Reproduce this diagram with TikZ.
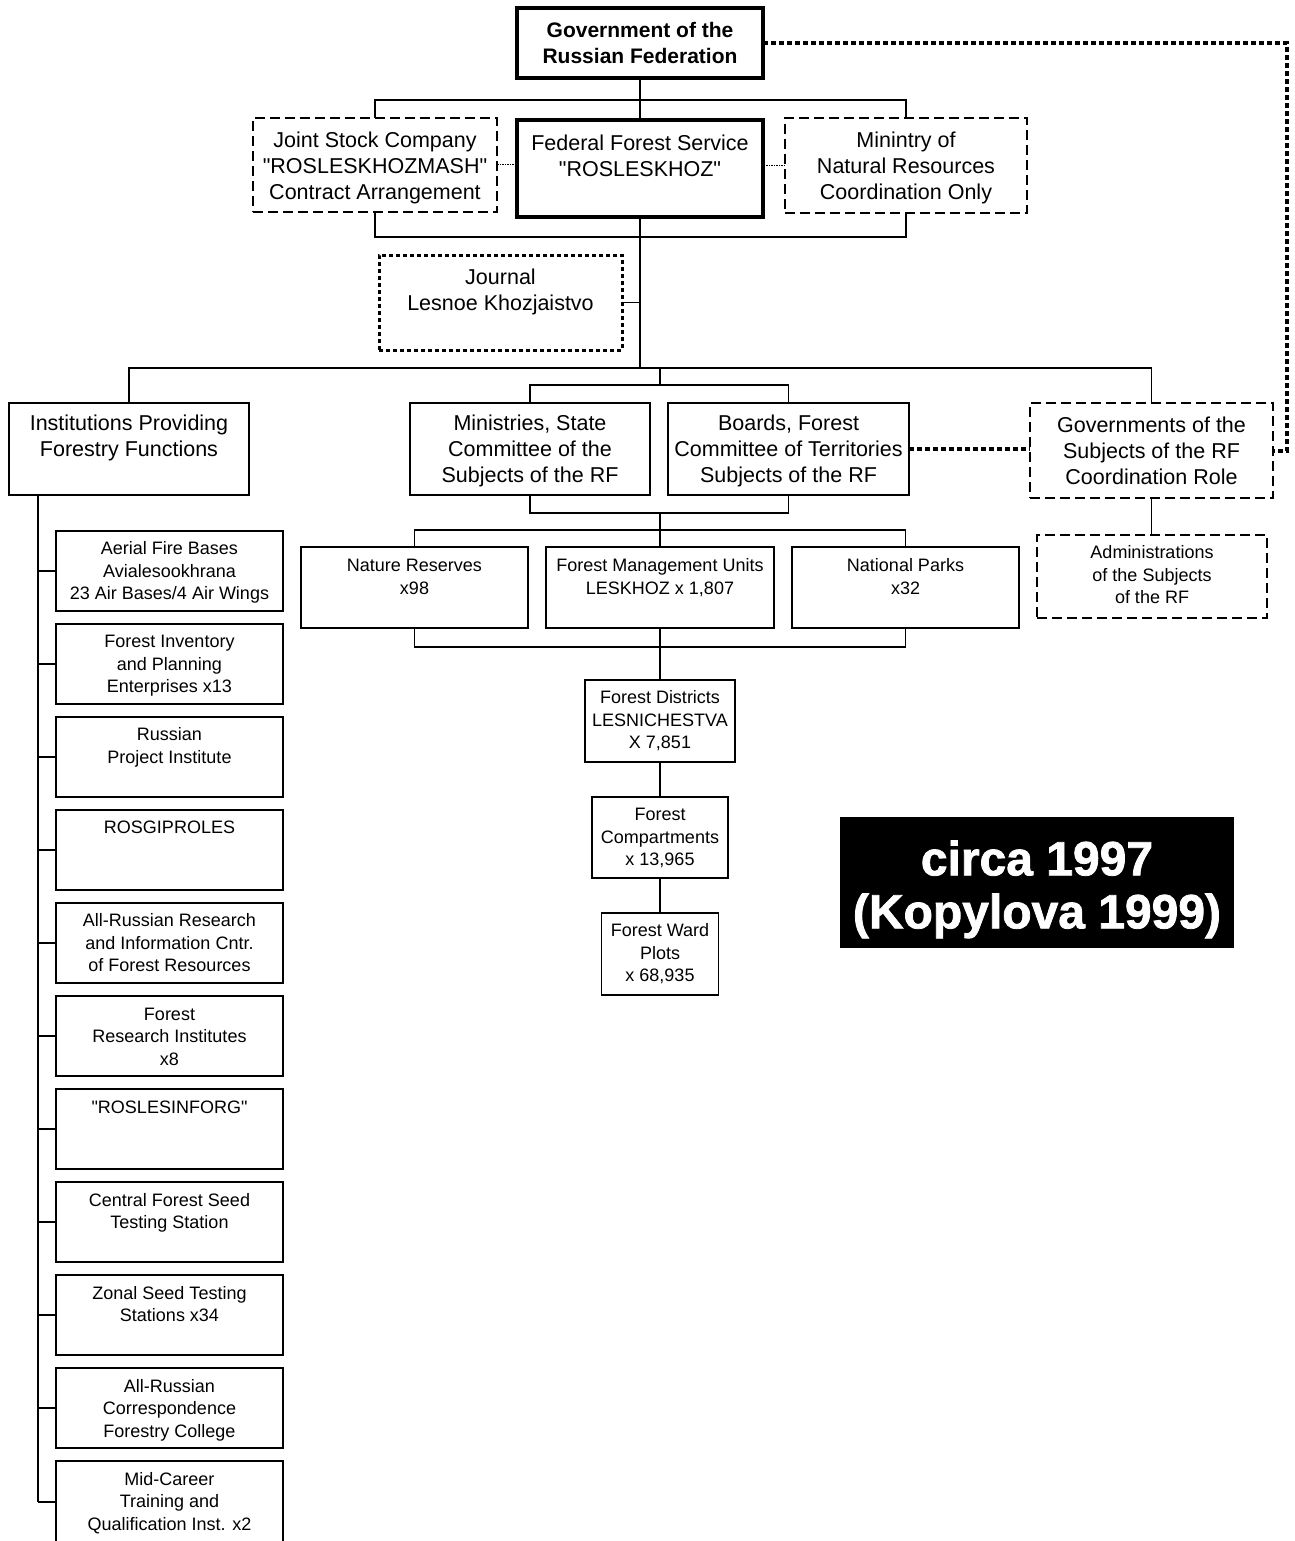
\documentclass[tikz,border=0pt]{standalone}
\usepackage{fontspec}
\setmainfont{Liberation Sans}[Ligatures=TeXOff]
\newfontfamily\circafont{Liberation Sans}[BoldFeatures={FakeBold=1.6}]
\newcommand{\qq}{"}
\tikzset{
  base/.style={rectangle, inner sep=0pt, outer sep=0pt},
  plainbx/.style={base, draw, line width=1.5pt},
  heavybx/.style={base, draw, line width=4.5pt},
  dashbx/.style={base, draw, line width=2.5pt, dash pattern=on 10pt off 5pt},
  dotbx/.style={base, draw, line width=3pt, dash pattern=on 4pt off 3pt},
  conn/.style={line width=1.5pt},
  dotconn/.style={line width=4pt, dash pattern=on 5pt off 3pt},
  thindot/.style={line width=1pt, dash pattern=on 1.5pt off 1pt},
  bigtxt/.style={font=\fontsize{21.5}{26}\selectfont, align=center, inner sep=0pt, anchor=north},
  smtxt/.style={font=\fontsize{18}{22.5}\selectfont, align=center, inner sep=0pt, anchor=north},
  boldtxt/.style={font=\fontsize{21}{26}\selectfont\bfseries, align=center, inner sep=0pt, anchor=north},
}
% name, style, x1, y1, x2, y2, text style, text top, text
\newcommand{\mkbox}[9]{%
  \node[#2, minimum width={(#5-#3)*1pt}, minimum height={(#6-#4)*1pt}] (#1) at ({(#3+#5)/2},{(#4+#6)/2}) {};
  \node[#7] (#1-t) at ({(#3+#5)/2},#8) {\strut #9};}
\begin{document}
\begin{tikzpicture}[x=1pt,y=-1pt]
\fill[white] (0,0) rectangle (1294,1541);
\useasboundingbox (0,0) rectangle (1294,1541);

% top level
\mkbox{gov}{heavybx}{517}{8}{763}{78}{boldtxt}{19.3}{Government of the\\Russian Federation}
\mkbox{fed}{heavybx}{517}{120}{763}{217}{bigtxt}{132.5}{Federal Forest Service\\\qq ROSLESKHOZ\qq}
\mkbox{joint}{dashbx}{253}{118}{497}{212}{bigtxt}{129.5}{Joint Stock Company\\\qq ROSLESKHOZMASH\qq\\Contract Arrangement}
\mkbox{mnr}{dashbx}{785}{118}{1027}{213}{bigtxt}{129.5}{Minintry of\\Natural Resources\\Coordination Only}
\mkbox{jour}{dotbx}{379}{255}{622}{350}{bigtxt}{266.5}{Journal\\Lesnoe Khozjaistvo}

% second level
\mkbox{inst}{plainbx}{9}{403}{249}{495}{bigtxt}{412.5}{Institutions Providing\\Forestry Functions}
\mkbox{mins}{plainbx}{410}{403}{650}{495}{bigtxt}{412.5}{Ministries, State\\Committee of the\\Subjects of the RF}
\mkbox{boards}{plainbx}{668}{403}{909}{495}{bigtxt}{412.5}{Boards, Forest\\Committee of Territories\\Subjects of the RF}
\mkbox{govs}{dashbx}{1030}{403}{1273}{498}{bigtxt}{414.5}{Governments of the\\Subjects of the RF\\Coordination Role}
\mkbox{admin}{dashbx}{1037}{535}{1267}{618}{smtxt}{542.75}{Administrations\\of the Subjects\\of the RF}

% third level
\mkbox{nat}{plainbx}{301}{547}{528}{628}{smtxt}{555.75}{Nature Reserves\\x98}
\mkbox{fmu}{plainbx}{546}{547}{774}{628}{smtxt}{555.75}{Forest Management Units\\LESKHOZ x 1,807}
\mkbox{parks}{plainbx}{792}{547}{1019}{628}{smtxt}{555.75}{National Parks\\x32}
\mkbox{dist}{plainbx}{585}{680}{735}{762}{smtxt}{687.75}{Forest Districts\\LESNICHESTVA\\X 7,851}
\mkbox{comp}{plainbx}{592}{797}{728}{878}{smtxt}{804.75}{Forest\\Compartments\\x 13,965}
\mkbox{ward}{plainbx}{601.5}{913}{718.5}{995}{smtxt}{920.75}{Forest Ward\\Plots\\x 68,935}

% left column
\mkbox{l1}{plainbx}{56}{531}{283}{611}{smtxt}{539}{Aerial Fire Bases\\Avialesookhrana\\23 Air Bases/4 Air Wings}
\mkbox{l2}{plainbx}{56}{624}{283}{704}{smtxt}{632}{Forest Inventory\\and Planning\\Enterprises x13}
\mkbox{l3}{plainbx}{56}{717}{283}{797}{smtxt}{725}{Russian\\Project Institute}
\mkbox{l4}{plainbx}{56}{810}{283}{890}{smtxt}{818}{ROSGIPROLES}
\mkbox{l5}{plainbx}{56}{903}{283}{983}{smtxt}{911}{All-Russian Research\\and Information Cntr.\\of Forest Resources}
\mkbox{l6}{plainbx}{56}{996}{283}{1076}{smtxt}{1004.5}{Forest\\Research Institutes\\x8}
\mkbox{l7}{plainbx}{56}{1089}{283}{1169}{smtxt}{1097.5}{\qq ROSLESINFORG\qq}
\mkbox{l8}{plainbx}{56}{1182}{283}{1262}{smtxt}{1190.5}{Central Forest Seed\\Testing Station}
\mkbox{l9}{plainbx}{56}{1275}{283}{1355}{smtxt}{1283.5}{Zonal Seed Testing\\Stations x34}
\mkbox{l10}{plainbx}{56}{1368}{283}{1448}{smtxt}{1376.5}{All-Russian\\Correspondence\\Forestry College}
\mkbox{l11}{plainbx}{56}{1461}{283}{1545}{smtxt}{1469.5}{Mid-Career\\Training and\\Qualification Inst. x2}

% circa label
\node[base, fill=black, minimum width=394pt, minimum height=131pt] (circa) at (1037,882.5) {};
\node[inner sep=0pt, anchor=north, align=center, text=white, font=\circafont\bfseries\fontsize{48}{53}\selectfont] (circa-t) at (1037,838) {\strut circa 1997\\(Kopylova 1999)};

% bus coordinates
\coordinate (bus1) at (640,368);
\coordinate (bus2) at (660,385);
\coordinate (bus3) at (660,513);
\coordinate (bus4) at (660,530);
\coordinate (ltop) at (38,495);
\coordinate (lbot) at (38,1502);

% connectors
\draw[conn] (gov.south) -- (fed.north);
\draw[conn] (joint.north) -- ++(0,-18) -| (mnr.north);
\draw[conn] (joint.south) -- ++(0,25) -| (mnr.south);
\draw[conn] (fed.south) -- (bus1);
\draw[conn] (jour.east) -- (jour.east -| fed.south);
\draw[conn] (inst.north) |- (bus1);
\draw[conn] (govs.north) |- (bus1);
\draw[conn] (bus2) -- (bus2 |- bus1);
\draw[conn] (mins.north) |- (bus2) -| (boards.north);
\draw[conn] (mins.south) |- (bus3) -| (boards.south);
\draw[conn] (bus3) -- (bus4);
\draw[conn] (nat.north) |- (bus4) -| (parks.north);
\draw[conn] (bus4) -- (fmu.north);
\draw[conn] (nat.south) -- ++(0,19) -| (parks.south);
\draw[conn] (fmu.south) -- (dist.north);
\draw[conn] (dist.south) -- (comp.north);
\draw[conn] (comp.south) -- (ward.north);
\draw[conn] (govs.south) -- (admin.north -| govs.south);
\draw[conn] (ltop) -- (lbot);
\foreach \b in {l1,l2,l3,l4,l5,l6,l7,l8,l9,l10} {
  \draw[conn] (\b.west) -- (\b.west -| ltop);
}
\draw[conn] (lbot) -- (lbot -| l11.west);

% dotted connectors
\draw[thindot] (joint.east) -- (joint.east -| fed.west);
\draw[thindot] (mnr.west) -- (mnr.west -| fed.east);
\draw[dotconn] (boards.east) -- (boards.east -| govs.west);
\draw[dotconn] (gov.east) -- ++(524,0) |- (govs.east);
\end{tikzpicture}
\end{document}
